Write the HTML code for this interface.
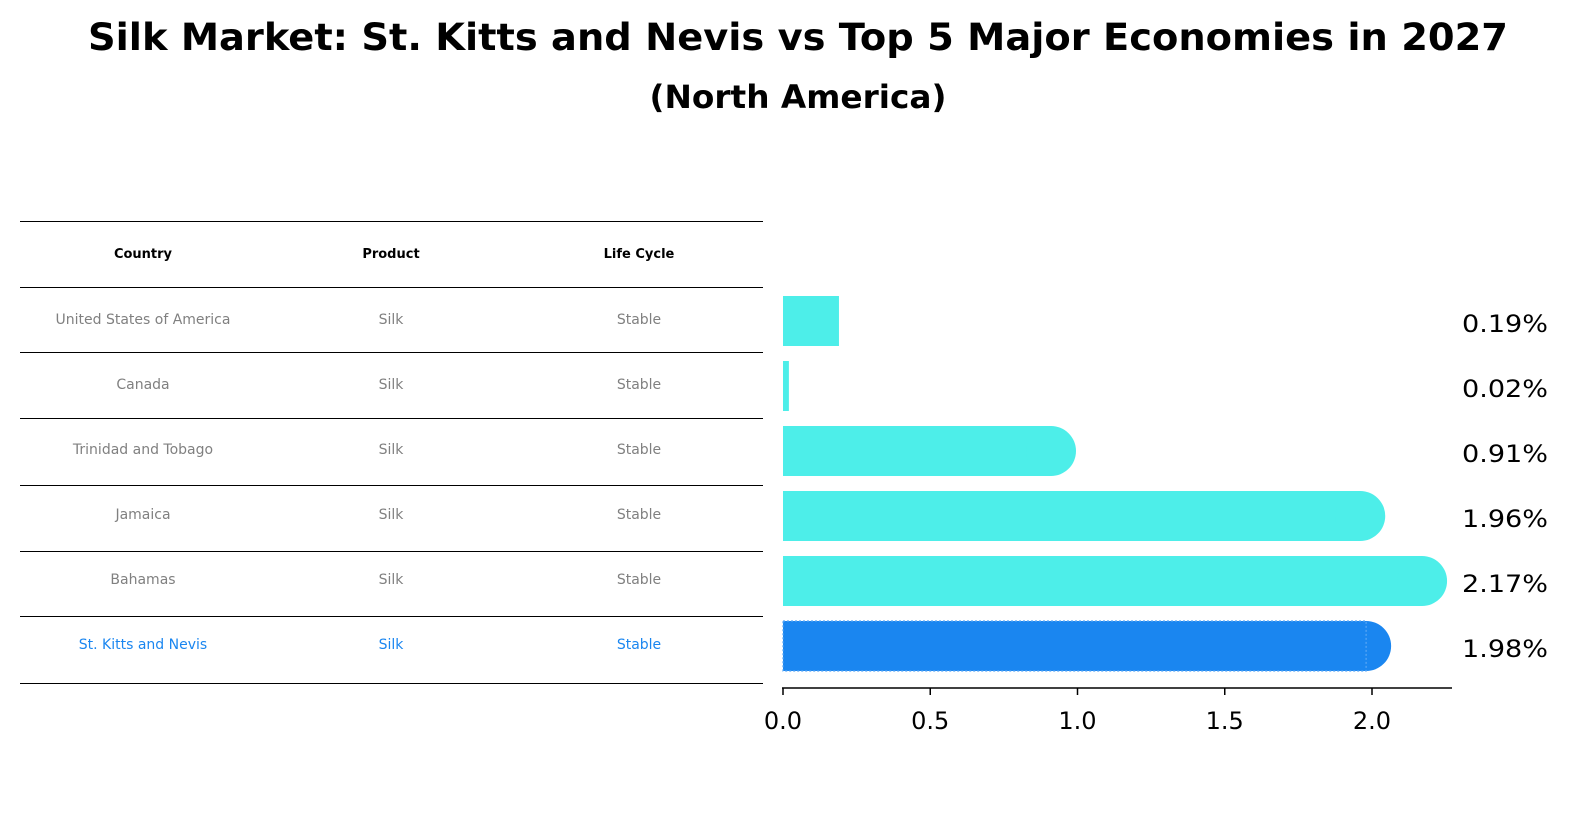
<!DOCTYPE html>
<html><head><meta charset="utf-8"><style>
body{margin:0;background:#fff;font-family:"DejaVu Sans","Liberation Sans",sans-serif}
svg text{font-family:"DejaVu Sans","Liberation Sans",sans-serif}
</style></head><body>
<svg id="c" width="1586" height="823" xmlns="http://www.w3.org/2000/svg">
<text x="798" y="50" text-anchor="middle" font-size="37" font-weight="bold" textLength="1420" lengthAdjust="spacingAndGlyphs">Silk Market: St. Kitts and Nevis vs Top 5 Major Economies in 2027</text>
<text x="798" y="108" text-anchor="middle" font-size="32" font-weight="bold" textLength="297" lengthAdjust="spacingAndGlyphs">(North America)</text>
<g id="tbl"></g>
<g id="bars"></g>
</svg>
<script>
const countries=["United States of America","Canada","Trinidad and Tobago","Jamaica","Bahamas","St. Kitts and Nevis"];
const products=["Silk","Silk","Silk","Silk","Silk","Silk"];
const lifeCycles=["Stable","Stable","Stable","Stable","Stable","Stable"];
const values=[0.19,0.02,0.91,1.96,2.17,1.98];
const ticks=[0,0.5,1.0,1.5,2.0];
const NS="http://www.w3.org/2000/svg";
function mk(p,t,a){const e=document.createElementNS(NS,t);for(const k in a)e.setAttribute(k,a[k]);p.appendChild(e);return e;}
const x=v=>783+v*294.5;
const rowY=i=>321+i*65;
const tbl=document.getElementById('tbl'),bars=document.getElementById('bars');
const lines=[221,287,352,418,485,551,616,683];
lines.forEach(y=>{const l=mk(tbl,'line',{x1:20,x2:763,y1:y+0.5,y2:y+0.5,stroke:'#000','stroke-width':1});

});
const cx=[143,391,639];
["Country","Product","Life Cycle"].forEach((h,j)=>{const t=mk(tbl,'text',{x:cx[j],y:258,'text-anchor':'middle','font-size':13,'font-weight':'bold'});t.textContent=h;

});
countries.forEach((c,i)=>{
 const last=i===countries.length-1;const col=last?'#1a86f0':'#808080';
 [c,products[i],lifeCycles[i]].forEach((s,j)=>{const t=mk(tbl,'text',{x:cx[j],y:rowY(i)+3,'text-anchor':'middle','font-size':14,fill:col});t.textContent=s;
 
 });
 const v=values[i],fill=last?'#1a86f0':'#4deee9';
 const g=mk(bars,'g',{});
 
 
 const y0=rowY(i)-25;
 mk(g,'rect',{x:783,y:y0,width:x(v)-783,height:50,fill:fill});
 if(v>=0.5)mk(g,'circle',{cx:x(v),cy:rowY(i),r:25,fill:fill});
 if(last)mk(g,'rect',{x:783,y:y0,width:x(v)-783,height:50,fill:'none',stroke:'#5aa8f5','stroke-width':1.2,'stroke-dasharray':'2,2'});
 const t=mk(bars,'text',{x:1462,y:rowY(i)+11,'font-size':24,textLength:86,lengthAdjust:'spacingAndGlyphs'});t.textContent=v.toFixed(2)+'%';
 
 
});
const ax=mk(bars,'line',{x1:782,x2:1452,y1:688,y2:688,stroke:'#000','stroke-width':1.5});


ticks.forEach(v=>{mk(bars,'line',{x1:x(v),x2:x(v),y1:688,y2:695,stroke:'#000','stroke-width':1.5});
 const t=mk(bars,'text',{x:x(v),y:729,'text-anchor':'middle','font-size':24});t.textContent=v.toFixed(1);
 
 });
</script>
</body></html>
